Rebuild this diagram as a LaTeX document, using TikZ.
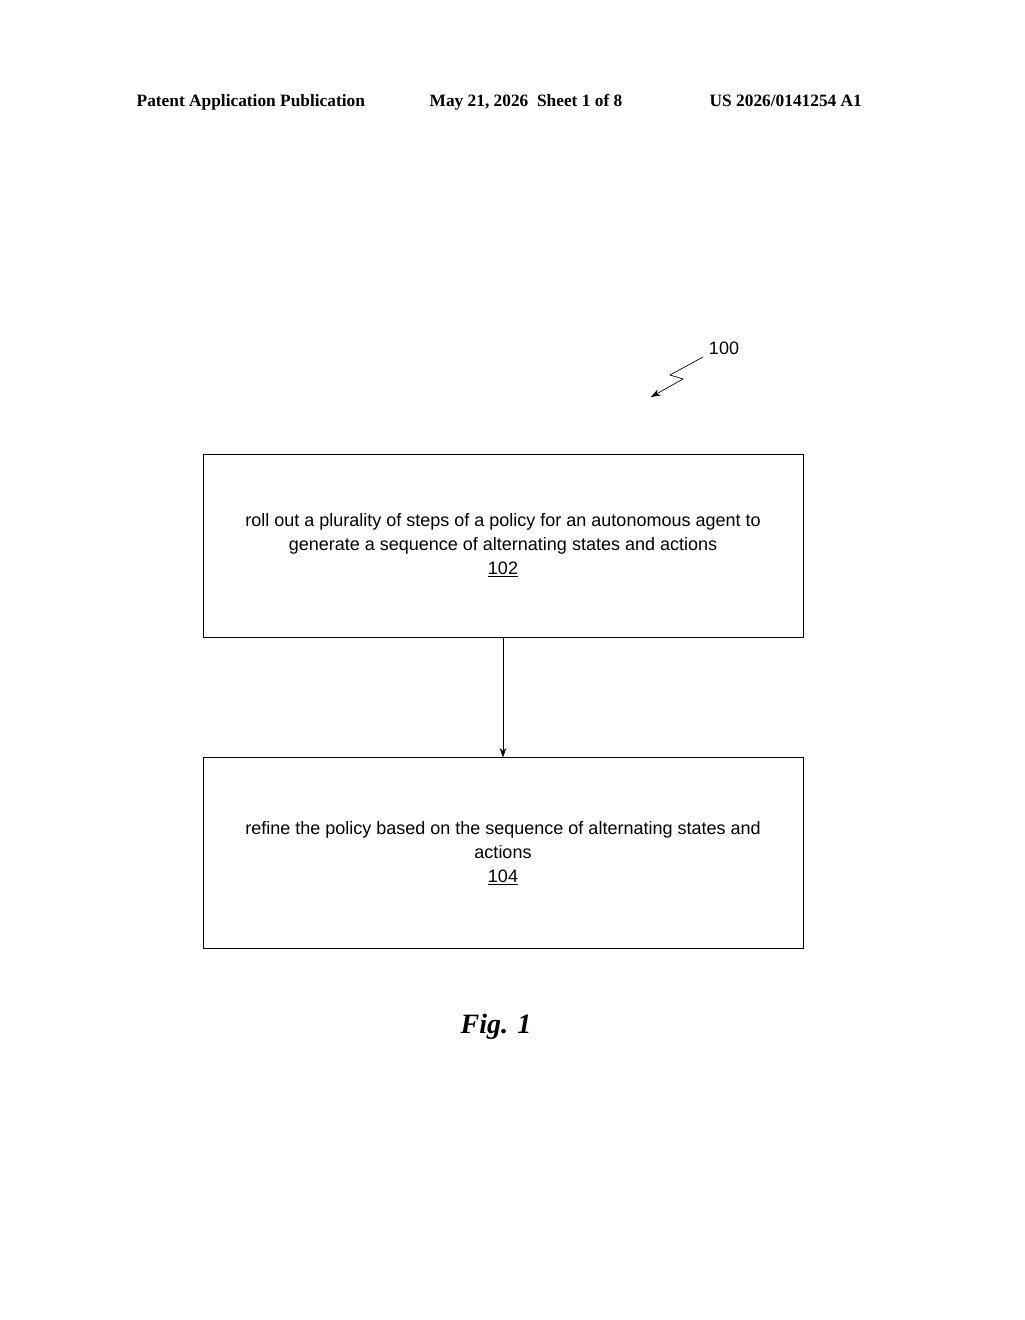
\documentclass[tikz,border=0pt]{standalone}
\usepackage{fontspec}
\setmainfont{Liberation Sans}
\newfontfamily\headfont{Liberation Serif}
\usetikzlibrary{arrows.meta,positioning}
\tikzset{
  stepbox/.style={draw, line width=0.5pt, minimum width=450pt, align=center,
    font=\fontsize{13.5}{18}\selectfont, inner sep=0pt},
  header/.style={font=\headfont\bfseries\fontsize{13}{15}\selectfont, anchor=base west},
}
\begin{document}
\begin{tikzpicture}[x=0.75pt,y=-0.75pt,>={Stealth[length=7pt,width=5pt]}]
  \useasboundingbox (0,0) rectangle (1024,1320);
  % header
  \node[header] (pub)  at (132,107) {Patent Application Publication};
  \node[header] (date) at (425,107) {May 21, 2026\ \ Sheet 1 of 8};
  \node[header] (num)  at (705,107) {US 2026/0141254 A1};
  % reference numeral
  \node[font=\fontsize{13.5}{16}\selectfont] (ref) at (724,348) {100};
  \coordinate (tip) at (651,397);
  \draw[->, line width=0.5pt] (703,357) -- (670,375) -- (683,379) -- (tip);
  % steps
  \node[stepbox, minimum height=137pt] (s102) at (503,545.5)
    {roll out a plurality of steps of a policy for an autonomous agent to\\
     generate a sequence of alternating states and actions\\ \underline{102}};
  \node[stepbox, minimum height=143pt] (s104) at (503,853)
    {refine the policy based on the sequence of alternating states and\\
     actions\\ \underline{104}};
  \draw[->, line width=0.5pt] (s102) -- (s104);
  \node[font=\headfont\bfseries\itshape\fontsize{21}{24}\selectfont] (fig) at (496,1027) {Fig. 1};
\end{tikzpicture}
\end{document}
